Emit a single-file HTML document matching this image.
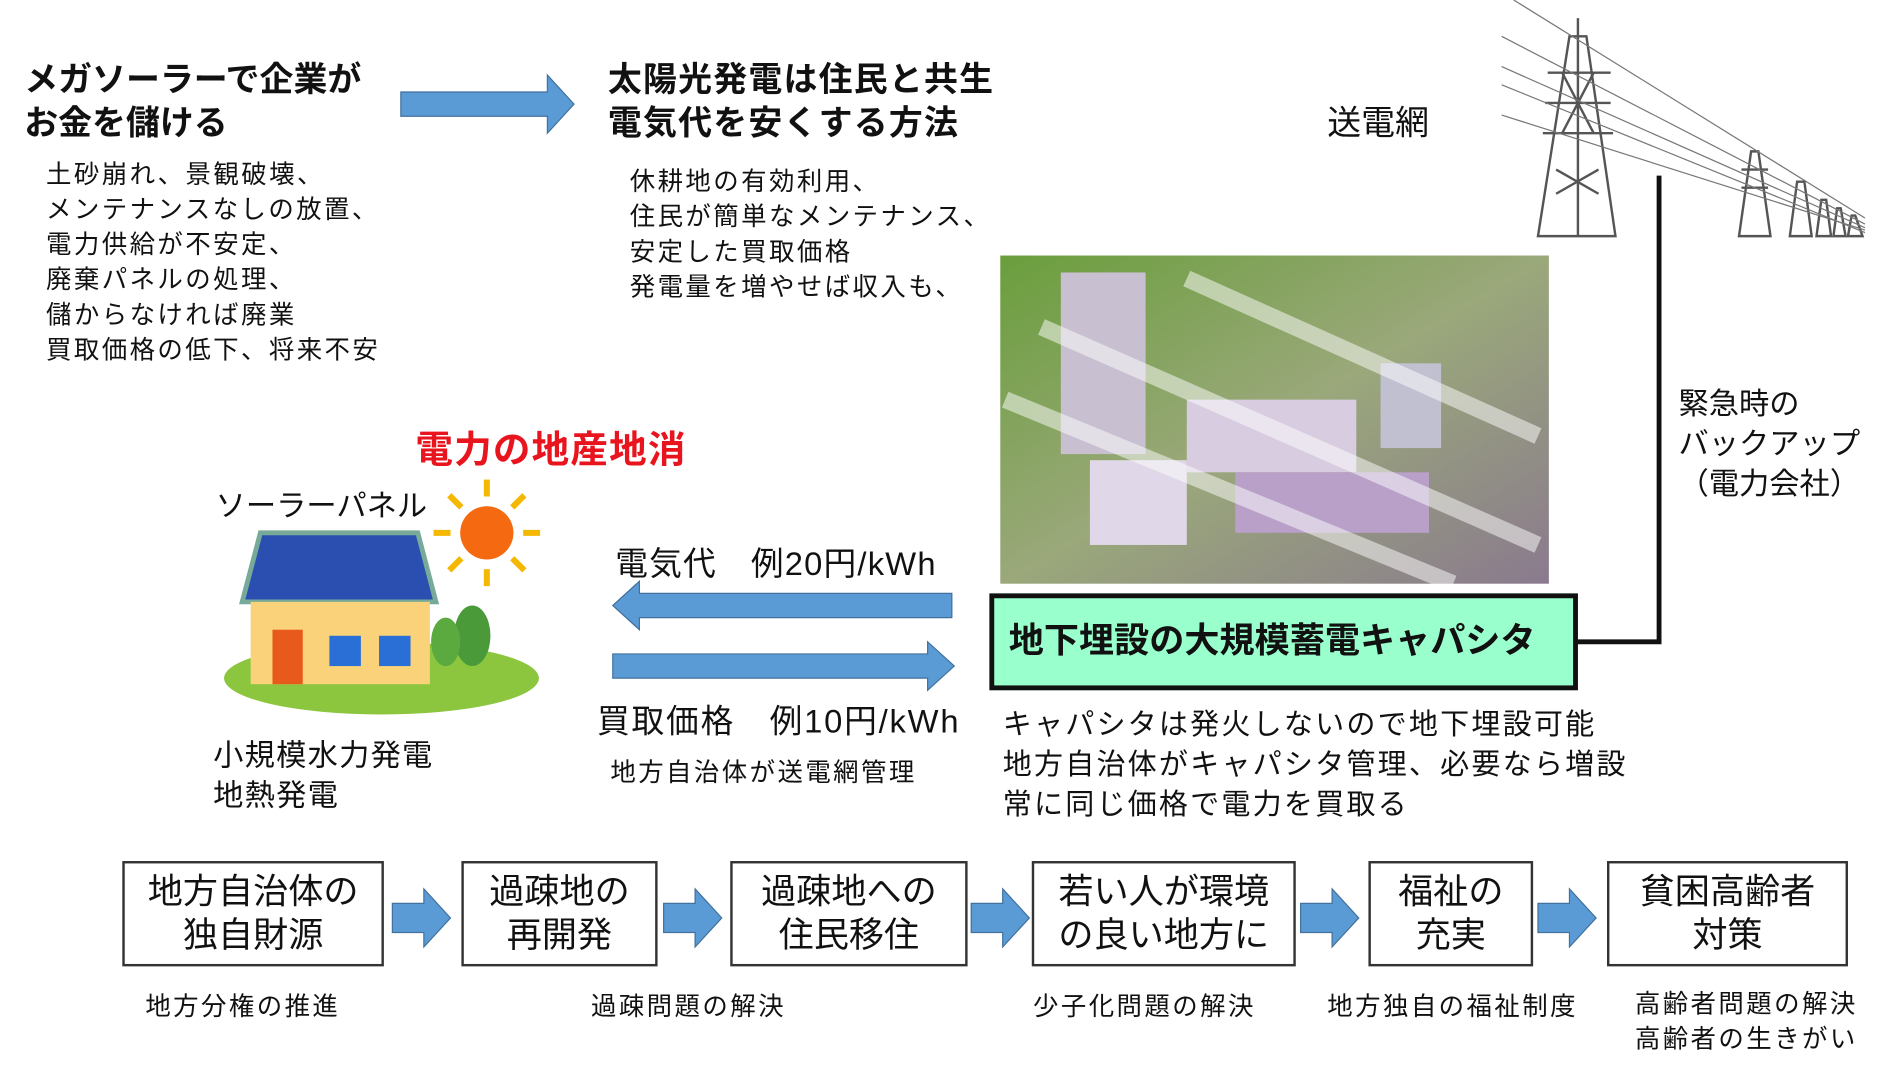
<!DOCTYPE html>
<html><head><meta charset="utf-8"><style>
html,body{margin:0;padding:0;background:#fff;overflow:hidden;}
#wrap{width:1549px;height:884px;position:relative;transform:scale(1.211);transform-origin:0 0;font-family:"Liberation Sans","Noto Sans CJK JP",sans-serif;color:#111;}
.a{position:absolute;white-space:nowrap;}
.h{font-size:28px;font-weight:bold;line-height:36px;}
.b{font-size:21px;line-height:29px;letter-spacing:2px;}
.box{position:absolute;border:2px solid #333;background:#fff;text-align:center;font-size:29px;line-height:36px;box-sizing:border-box;padding-top:6px;}
.cap{font-size:21px;letter-spacing:2px;}
</style></head><body><div id="wrap">
<div class="a h" style="left:20px;top:48px">メガソーラーで企業が<br>お金を儲ける</div>
<div class="a b" style="left:38px;top:130px">土砂崩れ、景観破壊、<br>メンテナンスなしの放置、<br>電力供給が不安定、<br>廃棄パネルの処理、<br>儲からなければ廃業<br>買取価格の低下、将来不安</div>
<div class="a h" style="left:502px;top:48px;letter-spacing:1px">太陽光発電は住民と共生<br>電気代を安くする方法</div>
<div class="a b" style="left:520px;top:136px">休耕地の有効利用、<br>住民が簡単なメンテナンス、<br>安定した買取価格<br>発電量を増やせば収入も、</div>
<div class="a" style="left:1096px;top:80px;font-size:28px">送電網</div>
<div class="a" style="left:343px;top:346px;font-size:31px;font-weight:bold;color:#e8141e;letter-spacing:1px">電力の地産地消</div>
<div class="a" style="left:178px;top:398px;font-size:25px">ソーラーパネル</div>
<div class="a" style="left:176px;top:608px;font-size:25px;line-height:33px;letter-spacing:1px">小規模水力発電<br>地熱発電</div>
<div class="a" style="left:508px;top:444px;font-size:27px;letter-spacing:1px">電気代　例20円/kWh</div>
<div class="a" style="left:493px;top:574px;font-size:27px;letter-spacing:1.5px">買取価格　例10円/kWh</div>
<div class="a b" style="left:504px;top:624px">地方自治体が送電網管理</div>
<div class="a" style="left:828px;top:582px;font-size:24px;line-height:33px;letter-spacing:1.8px">キャパシタは発火しないので地下埋設可能<br>地方自治体がキャパシタ管理、必要なら増設<br>常に同じ価格で電力を買取る</div>
<div class="a" style="left:1386px;top:318px;font-size:25px;line-height:33px">緊急時の<br>バックアップ<br>（電力会社）</div>
<div class="a" style="left:817px;top:490px;width:486px;height:80px;background:#99ffcc;border:4px solid #111;box-sizing:border-box;font-size:29px;font-weight:bold;line-height:72px;padding-left:12px">地下埋設の大規模蓄電キャパシタ</div>
<svg class="a" style="left:0;top:0" width="1549" height="884">
<defs><linearGradient id="g" x1="0" y1="0" x2="1" y2="1"><stop offset="0" stop-color="#6a9e3c"/><stop offset=".5" stop-color="#9aa87a"/><stop offset="1" stop-color="#8a7a8e"/></linearGradient></defs>
<polygon points="331,76 452,76 452,62 474,86 452,110 452,96 331,96" fill="#5b9bd5" stroke="#41719c"/>
<polygon points="786,490 528,490 528,480 506,500 528,520 528,510 786,510" fill="#5b9bd5" stroke="#41719c"/>
<polygon points="506,540 766,540 766,530 788,550 766,570 766,560 506,560" fill="#5b9bd5" stroke="#41719c"/>
<rect x="826" y="211" width="453" height="271" fill="url(#g)"/>
<rect x="876" y="225" width="70" height="150" fill="#c8c0d0"/>
<rect x="980" y="330" width="140" height="60" fill="#d8cce0"/>
<rect x="900" y="380" width="80" height="70" fill="#e0d8e8"/>
<rect x="1020" y="390" width="160" height="50" fill="#b8a0c8"/>
<rect x="1140" y="300" width="50" height="70" fill="#c0c0d0"/>
<g stroke="#fff" stroke-width="14" opacity=".5"><line x1="860" y1="270" x2="1270" y2="450"/><line x1="980" y1="230" x2="1270" y2="360"/><line x1="830" y1="330" x2="1200" y2="482"/></g>
<polyline points="1302,530 1370,530 1370,145" fill="none" stroke="#111" stroke-width="4"/>
<g stroke="#555" fill="none" stroke-width="2">
<polygon points="1270,195 1296,30 1310,30 1334,195"/><line x1="1303" y1="15" x2="1303" y2="195"/>
<line x1="1278" y1="60" x2="1330" y2="60"/><line x1="1276" y1="85" x2="1330" y2="85"/><line x1="1274" y1="110" x2="1332" y2="110"/>
<path d="M1285 140 L1320 160 M1320 140 L1285 160 M1290 60 L1316 110 M1316 60 L1290 110"/>
<polygon points="1436,195 1446,125 1452,125 1462,195"/><line x1="1438" y1="140" x2="1460" y2="140"/><line x1="1438" y1="155" x2="1460" y2="155"/>
<polygon points="1478,195 1484,150 1490,150 1496,195"/>
<polygon points="1500,195 1504,165 1508,165 1512,195"/><polygon points="1514,195 1517,172 1520,172 1524,195"/><polygon points="1526,195 1529,178 1532,178 1538,195"/>
</g>
<g stroke="#777" stroke-width="1"><line x1="1240" y1="30" x2="1540" y2="185"/><line x1="1240" y1="55" x2="1540" y2="188"/><line x1="1240" y1="95" x2="1540" y2="190"/><line x1="1250" y1="0" x2="1540" y2="180"/><line x1="1240" y1="70" x2="1540" y2="192"/></g>
<ellipse cx="315" cy="560" rx="130" ry="30" fill="#8cc63e"/>
<polygon points="215,440 345,440 360,497 200,497" fill="#2b4fb0" stroke="#7a9" stroke-width="4"/>
<rect x="207" y="497" width="148" height="68" fill="#f9d27a"/>
<rect x="225" y="520" width="25" height="45" fill="#e85a1c"/>
<rect x="272" y="525" width="26" height="25" fill="#2a6fd6"/><rect x="313" y="525" width="26" height="25" fill="#2a6fd6"/>
<ellipse cx="390" cy="525" rx="15" ry="25" fill="#4a9a3a"/><ellipse cx="368" cy="530" rx="12" ry="20" fill="#5aaa40"/>
<circle cx="402" cy="440" r="22" fill="#f56a10"/>
<g stroke="#f5b800" stroke-width="5"><line x1="402" y1="396" x2="402" y2="410"/><line x1="402" y1="470" x2="402" y2="484"/><line x1="358" y1="440" x2="372" y2="440"/><line x1="432" y1="440" x2="446" y2="440"/><line x1="371" y1="409" x2="381" y2="419"/><line x1="423" y1="461" x2="433" y2="471"/><line x1="433" y1="409" x2="423" y2="419"/><line x1="381" y1="461" x2="371" y2="471"/></g>
<g fill="#5b9bd5" stroke="#41719c">
<polygon points="324,746 350,746 350,734 372,758 350,782 350,770 324,770"/>
<polygon points="548,746 574,746 574,734 596,758 574,782 574,770 548,770"/>
<polygon points="802,746 828,746 828,734 850,758 828,782 828,770 802,770"/>
<polygon points="1074,746 1100,746 1100,734 1122,758 1100,782 1100,770 1074,770"/>
<polygon points="1270,746 1296,746 1296,734 1318,758 1296,782 1296,770 1270,770"/>
</g>
</svg>
<div class="box" style="left:101px;top:711px;width:216px;height:87px">地方自治体の<br>独自財源</div>
<div class="box" style="left:381px;top:711px;width:162px;height:87px">過疎地の<br>再開発</div>
<div class="box" style="left:603px;top:711px;width:196px;height:87px">過疎地への<br>住民移住</div>
<div class="box" style="left:852px;top:711px;width:218px;height:87px">若い人が環境<br>の良い地方に</div>
<div class="box" style="left:1130px;top:711px;width:136px;height:87px">福祉の<br>充実</div>
<div class="box" style="left:1327px;top:711px;width:199px;height:87px">貧困高齢者<br>対策</div>
<div class="a cap" style="left:120px;top:815px">地方分権の推進</div>
<div class="a cap" style="left:488px;top:815px">過疎問題の解決</div>
<div class="a cap" style="left:853px;top:815px">少子化問題の解決</div>
<div class="a cap" style="left:1096px;top:815px">地方独自の福祉制度</div>
<div class="a cap" style="left:1350px;top:815px;line-height:29px">高齢者問題の解決<br>高齢者の生きがい</div>
</div></body></html>
